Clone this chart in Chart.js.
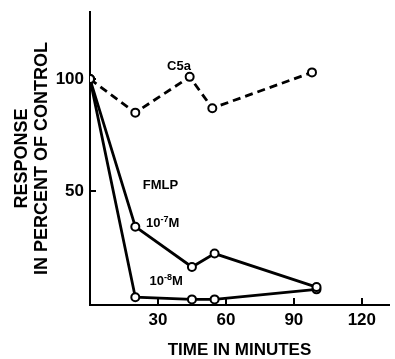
<!DOCTYPE html>
<html>
<head>
<meta charset="utf-8">
<script src="https://cdn.jsdelivr.net/npm/chart.js@4.4.1/dist/chart.umd.min.js"></script>
<style>
  html, body { margin: 0; padding: 0; background: #fff; }
  canvas { display: block; }
</style>
</head>
<body>
<canvas id="chart" width="395" height="359"></canvas>
<script>
// data
const timeC5a = [0, 20, 44, 54, 98];
const respC5a = [100, 85, 101, 87, 103];
const timeFmlp = [0, 20, 45, 55, 100];
const respFmlp7 = [100, 34, 16, 22, 7];
const respFmlp8 = [100, 2.5, 1.5, 1.5, 6];
const xTicks = [30, 60, 90, 120];
const yTicks = [50, 100];

const FONT = "'Liberation Sans', Arial, sans-serif";

function toPoints(xs, ys) {
    return xs.map((x, i) => ({ x: x, y: ys[i] }));
}

// text labels inside the plot (placed in data units)
const notes = [
    { text: 'C5a', x: 34.0, y: 105.8 },
    { text: 'FMLP', x: 23.3, y: 52.5 },
    { text: '10', sup: '-7', tail: 'M', x: 24.7, y: 35.3 },
    { text: '10', sup: '-8', tail: 'M', x: 26.3, y: 9.4 }
];

const notesPlugin = {
    id: 'notes',
    afterDatasetsDraw(chart) {
        const ctx = chart.ctx;
        const xs = chart.scales.x, ys = chart.scales.y;
        ctx.save();
        ctx.fillStyle = '#000';
        ctx.textBaseline = 'middle';
        ctx.textAlign = 'left';
        notes.forEach(n => {
            let px = xs.getPixelForValue(n.x);
            const py = ys.getPixelForValue(n.y);
            ctx.font = 'bold 13px ' + FONT;
            ctx.fillText(n.text, px, py);
            if (n.sup) {
                px += ctx.measureText(n.text).width;
                ctx.font = 'bold 9px ' + FONT;
                ctx.fillText(n.sup, px, py - 4);
                px += ctx.measureText(n.sup).width;
                ctx.font = 'bold 13px ' + FONT;
                ctx.fillText(n.tail, px, py);
            }
        });
        ctx.restore();
    }
};

const lineStyle = {
    borderColor: '#000',
    borderWidth: 2.8,
    pointRadius: 4,
    pointBorderWidth: 2,
    pointBackgroundColor: '#fff',
    pointBorderColor: '#000',
    tension: 0,
    fill: false
};

new Chart(document.getElementById('chart'), {
    type: 'line',
    data: {
        datasets: [
            Object.assign({ label: 'C5a', data: toPoints(timeC5a, respC5a), borderDash: [8, 5] }, lineStyle),
            Object.assign({ label: 'FMLP 10-7 M', data: toPoints(timeFmlp, respFmlp7) }, lineStyle),
            Object.assign({ label: 'FMLP 10-8 M', data: toPoints(timeFmlp, respFmlp8) }, lineStyle)
        ]
    },
    options: {
        responsive: false,
        animation: false,
        layout: { padding: { top: 12, right: 5, left: 0, bottom: 0 } },
        plugins: {
            legend: { display: false },
            tooltip: { enabled: false }
        },
        scales: {
            x: {
                type: 'linear',
                min: 0,
                max: 132,
                afterBuildTicks: s => { s.ticks = xTicks.map(v => ({ value: v })); },
                afterFit: s => { s.height = 54; s.paddingLeft = 0; s.paddingRight = 0; },
                border: { color: '#000', width: 2 },
                grid: { drawOnChartArea: false, drawTicks: true, tickLength: -7, color: '#000', lineWidth: 2 },
                ticks: { color: '#000', padding: 12, font: { family: FONT, size: 17, weight: 'bold' } },
                title: {
                    display: true,
                    text: 'TIME IN MINUTES',
                    color: '#000',
                    padding: 0,
                    font: { family: FONT, size: 17, weight: 'bold', lineHeight: 1.0 }
                }
            },
            y: {
                type: 'linear',
                min: -1,
                max: 130,
                afterBuildTicks: s => { s.ticks = yTicks.map(v => ({ value: v })); },
                afterFit: s => { s.width = 90; s.paddingTop = 0; s.paddingBottom = 0; },
                border: { color: '#000', width: 2 },
                grid: { drawOnChartArea: false, drawTicks: true, tickLength: -6, color: '#000', lineWidth: 2 },
                ticks: { color: '#000', padding: 12, font: { family: FONT, size: 17, weight: 'bold' } },
                title: {
                    display: true,
                    text: ['RESPONSE', 'IN PERCENT OF CONTROL'],
                    color: '#000',
                    padding: { top: 12, bottom: 0 },
                    font: { family: FONT, size: 18, weight: 'bold', lineHeight: 1.11 }
                }
            }
        }
    },
    plugins: [notesPlugin]
});
</script>
</body>
</html>
